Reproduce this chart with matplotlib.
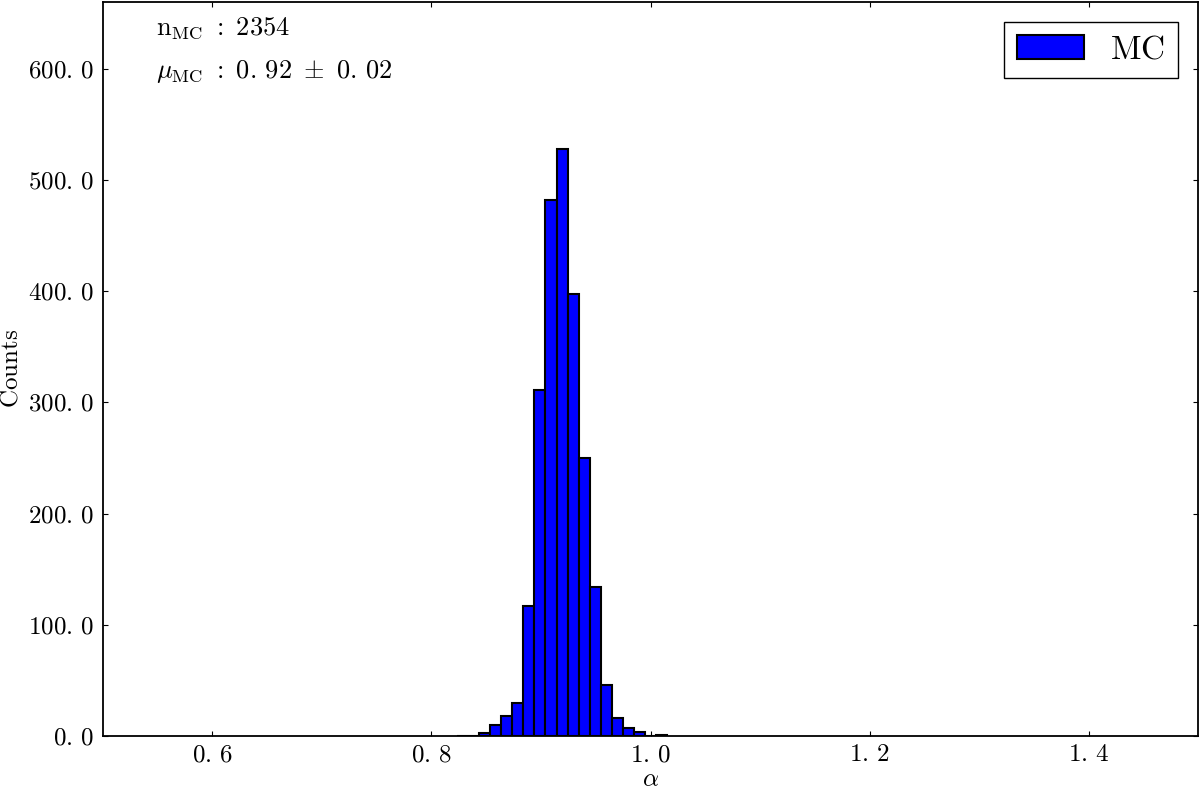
import numpy as np
import matplotlib
matplotlib.use("Agg")
import matplotlib.pyplot as plt
from matplotlib.ticker import FuncFormatter, MultipleLocator

plt.rcParams["mathtext.fontset"] = "cm"
plt.rcParams["font.family"] = "serif"
plt.rcParams["font.serif"] = ["cmr10", "DejaVu Serif"]
plt.rcParams["axes.formatter.use_mathtext"] = True

# histogram of alpha values
bin_edges = np.linspace(0.8235, 1.0150, 20)
counts = [0, 0, 3, 10, 18, 30, 117, 311, 482, 528, 397, 250, 134, 46, 16, 7, 4, 0, 1]
n_mc = 2354
mu_mc = 0.92
mu_err = 0.02

bin_centers = 0.5 * (bin_edges[:-1] + bin_edges[1:])


def fmt_tick(v, pos):
    s = f"{v:.1f}"
    a, b = s.split(".")
    return rf"${a}.\,{b}$"


fig = plt.figure(figsize=(12, 7.93), dpi=100)
ax = fig.add_axes([0.0856, 0.0719, 0.9130, 0.9256])

ax.hist(bin_centers, bins=bin_edges, weights=counts,
        color="#0000ff", edgecolor="black", linewidth=1.5, label="MC")

ax.set_xlim(0.5, 1.5)
ax.set_ylim(0, 660)
ax.xaxis.set_major_locator(MultipleLocator(0.2))
ax.yaxis.set_major_locator(MultipleLocator(100))
ax.xaxis.set_major_formatter(FuncFormatter(fmt_tick))
ax.yaxis.set_major_formatter(FuncFormatter(fmt_tick))
ax.tick_params(direction="in", length=3.5, width=0.8, labelsize=18,
               top=True, right=True, pad=6)
for sp in ax.spines.values():
    sp.set_linewidth(1.3)

ax.set_xlabel(r"$\alpha$", fontsize=18, labelpad=2)
ax.set_ylabel(r"$\mathrm{Counts}$", fontsize=18, labelpad=4)

# summary text in the upper left corner
ax.text(0.049, 0.965, rf"$\mathrm{{n_{{MC}}}}\ :\ {n_mc}$",
        transform=ax.transAxes, fontsize=19, va="center", ha="left")
a, b = f"{mu_mc:.2f}".split(".")
c, d = f"{mu_err:.2f}".split(".")
ax.text(0.049, 0.905, rf"$\mu_{{\mathrm{{MC}}}}\ :\ {a}.\,{b}\ \pm\ {c}.\,{d}$",
        transform=ax.transAxes, fontsize=19, va="center", ha="left")

leg = ax.legend(loc="upper right", fontsize=24, fancybox=False,
                framealpha=1, edgecolor="black", borderaxespad=0.6,
                handlelength=2, handleheight=0.7)
leg.get_frame().set_linewidth(1.0)
for t in leg.get_texts():
    t.set_text(r"$\mathrm{MC}$")

fig.savefig("out.png", dpi=100)
